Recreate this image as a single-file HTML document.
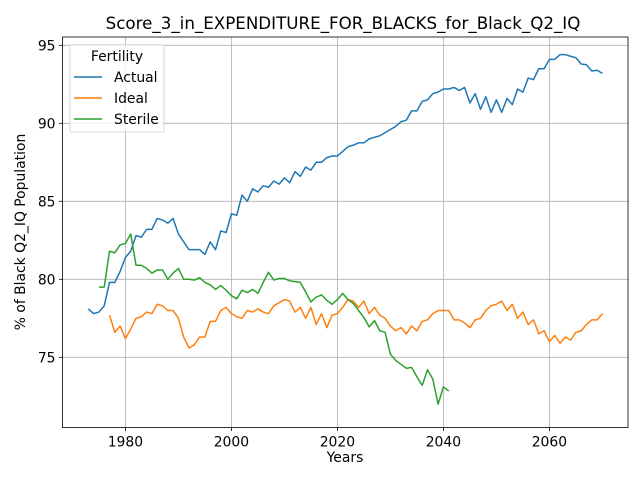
<!DOCTYPE html>
<html><head><meta charset="utf-8"><style>
body{margin:0;background:#fff;}
svg{display:block;font-family:"DejaVu Sans","Liberation Sans",sans-serif;}
</style></head><body>
<svg id="chart" width="640" height="480" viewBox="0 0 640 480"></svg>
<script>
const actualStart = 1973;
const actualValues = [78.1,77.8,77.9,78.3,79.8,79.8,80.5,81.4,81.8,82.8,82.7,83.2,83.2,83.9,83.8,83.6,83.9,82.9,82.4,81.9,81.9,81.9,81.6,82.4,81.9,83.1,83.0,84.2,84.1,85.4,85.0,85.8,85.6,86.0,85.9,86.3,86.1,86.5,86.2,86.9,86.6,87.2,87.0,87.5,87.5,87.8,87.9,87.9,88.2,88.5,88.6,88.75,88.75,89.0,89.1,89.2,89.4,89.6,89.8,90.1,90.2,90.8,90.8,91.4,91.5,91.9,92.0,92.2,92.2,92.3,92.1,92.3,91.3,91.9,90.9,91.7,90.7,91.5,90.7,91.6,91.2,92.2,92.0,92.9,92.8,93.5,93.5,94.1,94.1,94.4,94.4,94.3,94.2,93.8,93.75,93.35,93.4,93.2];
const idealStart = 1977;
const idealValues = [77.7,76.6,77.0,76.2,76.8,77.5,77.6,77.9,77.8,78.4,78.3,78.0,78.0,77.5,76.3,75.6,75.8,76.3,76.3,77.3,77.3,78.0,78.2,77.8,77.6,77.5,78.0,77.9,78.1,77.9,77.8,78.3,78.5,78.7,78.6,77.9,78.2,77.5,78.2,77.1,77.8,76.9,77.7,77.8,78.2,78.7,78.6,78.2,78.6,77.8,78.2,77.7,77.5,77.0,76.7,76.9,76.5,77.0,76.7,77.3,77.4,77.8,78.0,78.0,78.0,77.4,77.4,77.2,76.9,77.4,77.5,78.0,78.3,78.4,78.6,78.0,78.4,77.5,77.9,77.1,77.4,76.5,76.7,76.0,76.4,75.9,76.3,76.1,76.6,76.7,77.1,77.4,77.4,77.8];
const sterileStart = 1975;
const sterileValues = [79.5,79.5,81.8,81.7,82.2,82.3,82.9,80.9,80.9,80.7,80.4,80.6,80.6,80.0,80.4,80.7,80.0,80.0,79.95,80.1,79.8,79.65,79.35,79.6,79.3,78.95,78.75,79.3,79.15,79.35,79.1,79.8,80.45,79.95,80.05,80.05,79.9,79.85,79.8,79.2,78.55,78.85,79.0,78.65,78.4,78.7,79.1,78.7,78.45,78.0,77.55,76.95,77.35,76.7,76.6,75.2,74.8,74.55,74.3,74.35,73.75,73.2,74.2,73.6,72.0,73.1,72.85];
const xTicks = [1980,2000,2020,2040,2060];
const yTicks = [75,80,85,90,95];

const L=62.5,R=628,T=37,B=427.5;
function xs(yr){return 125.4+(yr-1980)*5.3;}
function ys(v){return 45.3+(95-v)*15.6;}
const svg=document.getElementById('chart');
const NS='http://www.w3.org/2000/svg';
function mk(tag,attrs,parent){const e=document.createElementNS(NS,tag);for(const k in attrs)e.setAttribute(k,attrs[k]);(parent||svg).appendChild(e);return e;}

xTicks.forEach(t=>{
  const g=mk('line',{x1:xs(t),x2:xs(t),y1:T,y2:B,stroke:'#b0b0b0','stroke-width':0.8});
  
  
  mk('line',{x1:xs(t),x2:xs(t),y1:B,y2:B+3.5,stroke:'#000','stroke-width':0.8});
  const tx=mk('text',{x:xs(t),y:B+19,'text-anchor':'middle','font-size':13.9,fill:'#000'});
  tx.textContent=t;
  
  
});
yTicks.forEach(t=>{
  const g=mk('line',{x1:L,x2:R,y1:ys(t),y2:ys(t),stroke:'#b0b0b0','stroke-width':0.8});
  
  
  mk('line',{x1:L-3.5,x2:L,y1:ys(t),y2:ys(t),stroke:'#000','stroke-width':0.8});
  const tx=mk('text',{x:L-7,y:ys(t)+5,'text-anchor':'end','font-size':13.9,fill:'#000'});
  tx.textContent=t;
  
  
});

function series(start,vals,color){
  const pts=vals.map((v,i)=>xs(start+i).toFixed(2)+','+ys(v).toFixed(2)).join(' ');
  return mk('polyline',{points:pts,fill:'none',stroke:color,'stroke-width':1.5,'stroke-linejoin':'round'});
}
const a=series(actualStart,actualValues,'#1f77b4');


const id=series(idealStart,idealValues,'#ff7f0e');


const st=series(sterileStart,sterileValues,'#2ca02c');



const frame=mk('rect',{x:L,y:T,width:R-L,height:B-T,fill:'none',stroke:'#000','stroke-width':0.8});


</script>
<svg width="640" height="480" style="position:absolute;left:0;top:0">
  <text x="343" y="29" text-anchor="middle" font-size="16.7" font-family="DejaVu Sans,Liberation Sans,sans-serif">Score_3_in_EXPENDITURE_FOR_BLACKS_for_Black_Q2_IQ</text>
  <text x="345" y="462" text-anchor="middle" font-size="13.9" font-family="DejaVu Sans,Liberation Sans,sans-serif">Years</text>
  <text transform="translate(25,232) rotate(-90)" text-anchor="middle" font-size="13.9" font-family="DejaVu Sans,Liberation Sans,sans-serif">% of Black Q2_IQ Population</text>
  <g font-family="DejaVu Sans,Liberation Sans,sans-serif" font-size="13.9">
    <rect x="70" y="44.5" width="94" height="87.5" rx="2" fill="#fff" fill-opacity="0.8" stroke="#ccc" stroke-width="0.8"/>
    <text x="117" y="61" text-anchor="middle">Fertility</text>
    <line x1="74" x2="102" y1="77" y2="77" stroke="#1f77b4" stroke-width="1.5"/>
    <text x="114" y="82">Actual</text>
    <line x1="74" x2="102" y1="98" y2="98" stroke="#ff7f0e" stroke-width="1.5"/>
    <text x="114" y="103">Ideal</text>
    <line x1="74" x2="102" y1="119" y2="119" stroke="#2ca02c" stroke-width="1.5"/>
    <text x="114" y="124">Sterile</text>
  </g>
</svg>
</body></html>
